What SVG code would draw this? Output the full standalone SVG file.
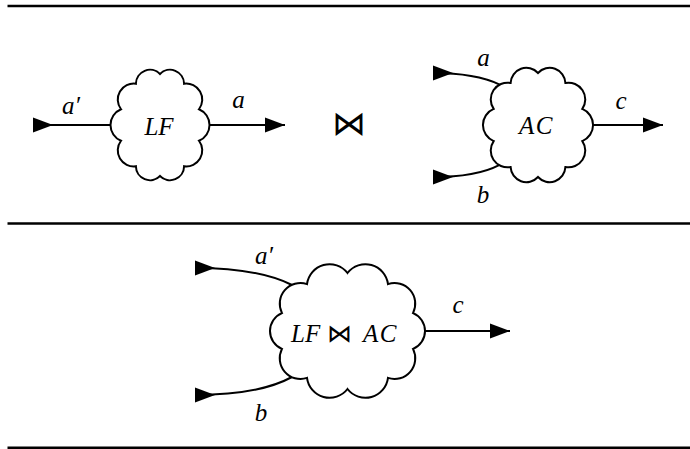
<svg xmlns="http://www.w3.org/2000/svg" width="690" height="449" viewBox="0 0 690 449">
<style>
.rule{stroke:#000;stroke-width:2.4;fill:none}
.cloud{stroke:#000;stroke-width:2;fill:#fff;stroke-linejoin:miter}
.wire{stroke:#000;stroke-width:2;fill:none}
.in{marker-start:url(#ain)}
.out{marker-end:url(#aout)}
.t{font-family:"Liberation Serif","DejaVu Serif",serif;font-style:italic;font-size:25px;fill:#000}
.join{font-family:"Noto Sans CJK JP","DejaVu Sans",sans-serif;font-style:normal;font-weight:300;fill:#000}
</style>
<defs>
<marker id="ain" markerUnits="userSpaceOnUse" markerWidth="22" markerHeight="18" viewBox="0 -9 22 18" refX="0" refY="0" orient="auto"><path d="M0,-7.5 L20,0 L0,7.5 Z" fill="#000"/></marker>
<marker id="aout" markerUnits="userSpaceOnUse" markerWidth="22" markerHeight="18" viewBox="0 -9 22 18" refX="20" refY="0" orient="auto"><path d="M0,-7.5 L20,0 L0,7.5 Z" fill="#000"/></marker>
</defs>
<g id="rules">
<line class="rule" x1="7.5" y1="6" x2="690" y2="6"/>
<line class="rule" x1="7.5" y1="223.5" x2="690" y2="223.5"/>
<line class="rule" x1="7.5" y1="447.8" x2="690" y2="447.8"/>
</g>
<g id="connectors">
<line class="wire in" x1="33" y1="125" x2="110.5" y2="125"/>
<line class="wire out" x1="209.5" y1="125" x2="285" y2="125"/>
<path class="wire in" d="M433,73 C462,73 484,77 499.7,84.6"/>
<path class="wire in" d="M433,177 C462,177 484,173 499.1,165.1"/>
<line class="wire out" x1="593" y1="125" x2="663" y2="125"/>
<path class="wire in" d="M195,268 C235,268 270,274 292,285"/>
<path class="wire in" d="M195,395 C235,395 270,389 292,377"/>
<line class="wire out" x1="425" y1="331" x2="510" y2="331"/>
</g>
<g id="labels">
<text class="t" x="71" y="114" text-anchor="middle">a′</text>
<text class="t" x="238.5" y="108" text-anchor="middle">a</text>
<text class="t" x="483.5" y="66" text-anchor="middle">a</text>
<text class="t" x="483" y="203" text-anchor="middle">b</text>
<text class="t" x="621" y="109" text-anchor="middle">c</text>
<text class="t" x="264" y="264" text-anchor="middle">a′</text>
<text class="t" x="261" y="421" text-anchor="middle">b</text>
<text class="t" x="458" y="313" text-anchor="middle">c</text>
</g>
<g id="node-LF">
<path class="cloud" d="M198.99,140.76 A15.98,15.98 0 0 1 184.10,166.26 A14.07,14.07 0 0 1 160,176 A14.07,14.07 0 0 1 135.90,166.26 A15.98,15.98 0 0 1 121.01,140.76 A17.06,17.06 0 0 1 121.01,109.24 A15.98,15.98 0 0 1 135.90,83.74 A14.07,14.07 0 0 1 160,74 A14.07,14.07 0 0 1 184.10,83.74 A15.98,15.98 0 0 1 198.99,109.24 A17.06,17.06 0 0 1 198.99,140.76 Z"/>
<text class="t" x="159" y="135" text-anchor="middle">LF</text>
</g>
<g id="join-symbol">
<text class="join" x="349" y="135" font-size="34" text-anchor="middle">⋈</text>
</g>
<g id="node-AC">
<path class="cloud" d="M582.32,141.07 A16.79,16.79 0 0 1 565.39,167.07 A15.76,15.76 0 0 1 538,177 A15.76,15.76 0 0 1 510.61,167.07 A16.79,16.79 0 0 1 493.68,141.07 A17.39,17.39 0 0 1 493.68,108.93 A16.79,16.79 0 0 1 510.61,82.93 A15.76,15.76 0 0 1 538,73 A15.76,15.76 0 0 1 565.39,82.93 A16.79,16.79 0 0 1 582.32,108.93 A17.39,17.39 0 0 1 582.32,141.07 Z"/>
<text class="t" x="536.5" y="134" text-anchor="middle" letter-spacing="1.5">AC</text>
</g>
<g id="node-LFjoinAC">
<path class="cloud" d="M413.03,348.92 A20.73,20.73 0 0 1 388,377.92 A22.72,22.72 0 0 1 347.5,389 A22.72,22.72 0 0 1 307,377.92 A20.73,20.73 0 0 1 281.97,348.92 A19.39,19.39 0 0 1 281.97,313.08 A20.73,20.73 0 0 1 307,284.08 A22.72,22.72 0 0 1 347.5,273 A22.72,22.72 0 0 1 388,284.08 A20.73,20.73 0 0 1 413.03,313.08 A19.39,19.39 0 0 1 413.03,348.92 Z"/>
<text class="t" y="342"><tspan x="291">LF</tspan><tspan class="join" x="327" font-size="25">⋈</tspan><tspan x="363" letter-spacing="1.5">AC</tspan></text>
</g>
</svg>
